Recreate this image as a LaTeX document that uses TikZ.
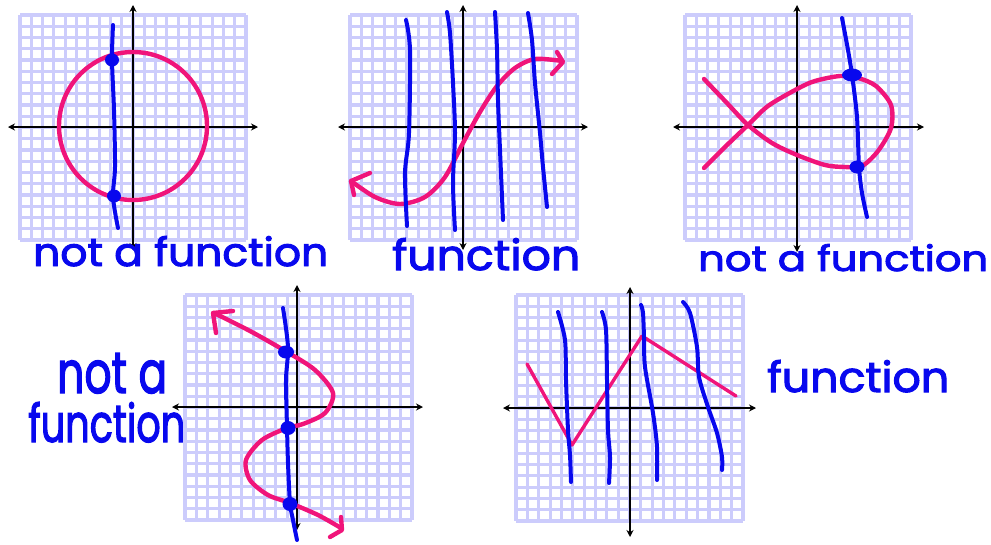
\documentclass[tikz,border=0pt]{standalone}
\usepackage{fontspec}
\usepackage{graphicx}
\usetikzlibrary{arrows.meta}
\newfontfamily\hand[FakeBold=2.5]{Poppins}
\definecolor{gridc}{RGB}{204,204,252}
\definecolor{pinkc}{RGB}{240,20,122}
\definecolor{bluec}{RGB}{8,8,238}
\tikzset{
  gridline/.style={draw=gridc, line width=3.1pt},
  axisline/.style={draw=black, line width=1.3pt, {Stealth[length=7pt,width=7pt]}-{Stealth[length=7pt,width=7pt]}},
  pinkline/.style={draw=pinkc, line width=4.4pt, line cap=round, line join=round},
  blueline/.style={draw=bluec, line width=4pt, line cap=round, line join=round},
  bdot/.style={fill=bluec},
  lbl/.style={inner sep=0pt, anchor=base west, text=bluec}
}
\newcommand{\lavgrid}[4]{%
  \foreach \i in {0,...,20}{%
    \draw[gridline] ({#1+(#3-#1)*\i/20},#2) -- ({#1+(#3-#1)*\i/20},#4);
    \draw[gridline] (#1,{#2+(#4-#2)*\i/20}) -- (#3,{#2+(#4-#2)*\i/20});
  }}
\begin{document}
\begin{tikzpicture}[x=1pt,y=-1pt]
\useasboundingbox (0,0) rectangle (991,544);
% ---------- Graph 1 ----------
\lavgrid{20}{15}{246}{240}
\draw[axisline] (133,5) -- (133,250);
\draw[axisline] (8,127) -- (258,127);
\draw[pinkline] (133,126) circle [radius=74pt];
\draw[blueline] plot[smooth] coordinates {(113,25) (112,60) (114,110) (115,167) (113,197) (118,228)};
\fill[bdot] (112,60) ellipse [x radius=7pt, y radius=6.5pt];
\fill[bdot] (114,196) ellipse [x radius=7pt, y radius=6.5pt];
\node[lbl] (t1) at (33,266) {\resizebox{295pt}{30pt}{\hand not a function}};
% ---------- Graph 2 ----------
\lavgrid{350}{15}{577}{240}
\draw[axisline] (463,5) -- (463,250);
\draw[axisline] (338,127) -- (588,127);
\draw[pinkline] plot[smooth] coordinates {(351,181) (375,197) (400,204) (425,197) (445,177) (463,143) (480,112) (497,86) (515,68) (535,59) (562,61)};
\draw[pinkline] (370,173) -- (351,181) -- (354,195);
\draw[pinkline] (557,52) -- (563,62) -- (552,74);
\draw[blueline] plot[smooth] coordinates {(406,20) (410,50) (409,133) (405,173) (407,226)};
\draw[blueline] plot[smooth] coordinates {(447,12) (450,33) (453,83) (455,133) (453,183) (455,230)};
\draw[blueline] plot[smooth] coordinates {(495,12) (497,50) (498,100) (500,150) (503,220)};
\draw[blueline] plot[smooth] coordinates {(528,13) (532,40) (535,83) (540,133) (543,167) (547,207)};
\node[lbl] (t2) at (392,270) {\resizebox{188pt}{32pt}{\hand function}};
% ---------- Graph 3 ----------
\lavgrid{685}{15}{911}{240}
\draw[axisline] (797,5) -- (797,252);
\draw[axisline] (673,127) -- (924,127);
\draw[pinkline] plot[smooth] coordinates {(704,79) (726,102) (748,125) (772,143) (797,155) (825,165) (845,167) (862,166) (878,151) (891,128) (891,105) (876,86) (858,78) (840,76) (815,81) (797,89) (768,106) (748,125) (726,146) (704,168)};
\draw[blueline] plot[smooth] coordinates {(842,18) (848,50) (852,75) (857,117) (859,167) (862,193) (867,217)};
\fill[bdot] (852,75) ellipse [x radius=10pt, y radius=6.5pt];
\fill[bdot] (857,167) ellipse [x radius=7.5pt, y radius=6.5pt];
\node[lbl] (t3) at (698,271) {\resizebox{290pt}{27pt}{\hand not a function}};
% ---------- Graph 4 ----------
\lavgrid{185}{295}{412}{520}
\draw[axisline] (297,285) -- (297,530);
\draw[axisline] (172,407) -- (423,407);
\draw[pinkline] plot[smooth] coordinates {(214,313) (250,331) (287,352) (315,370) (333,393) (325,413) (303,424) (287,428) (262,440) (246,460) (250,480) (268,495) (290,503) (318,515) (341,528)};
\draw[pinkline] (233,311) -- (213,313) -- (216,333);
\draw[pinkline] (341,517) -- (342,530) -- (330,537);
\draw[blueline] plot[smooth] coordinates {(283,308) (288,347) (286,380) (287,427) (288,463) (290,503) (293,520) (297,540)};
\fill[bdot] (286,352) ellipse [x radius=8pt, y radius=6.5pt];
\fill[bdot] (288,428) ellipse [x radius=7.5pt, y radius=7pt];
\fill[bdot] (290,504) ellipse [x radius=7.5pt, y radius=7pt];
\node[lbl] (t4a) at (57,393) {\resizebox{110pt}{40pt}{\hand not a}};
\node[lbl] (t4b) at (28,442) {\resizebox{157pt}{40pt}{\hand function}};
% ---------- Graph 5 ----------
\lavgrid{516}{295}{743}{521}
\draw[axisline] (630,287) -- (630,537);
\draw[axisline] (503,408) -- (756,408);
\draw[pinkline, line width=3.4pt] (527,364) -- (572,445) -- (642,336) -- (736,396);
\draw[blueline] plot[smooth] coordinates {(558,312) (565,340) (566,380) (568,430) (570,455) (571,482)};
\draw[blueline] plot[smooth] coordinates {(602,312) (606,330) (607,380) (608,430) (610,457) (609,483)};
\draw[blueline] plot[smooth] coordinates {(641,305) (643,313) (644,337) (645,367) (653,413) (657,447) (657,480)};
\draw[blueline] plot[smooth] coordinates {(683,302) (690,313) (697,347) (699,377) (708,407) (717,433) (722,457) (722,470)};
\node[lbl] (t5) at (767,392) {\resizebox{182pt}{32pt}{\hand function}};
\end{tikzpicture}
\end{document}
